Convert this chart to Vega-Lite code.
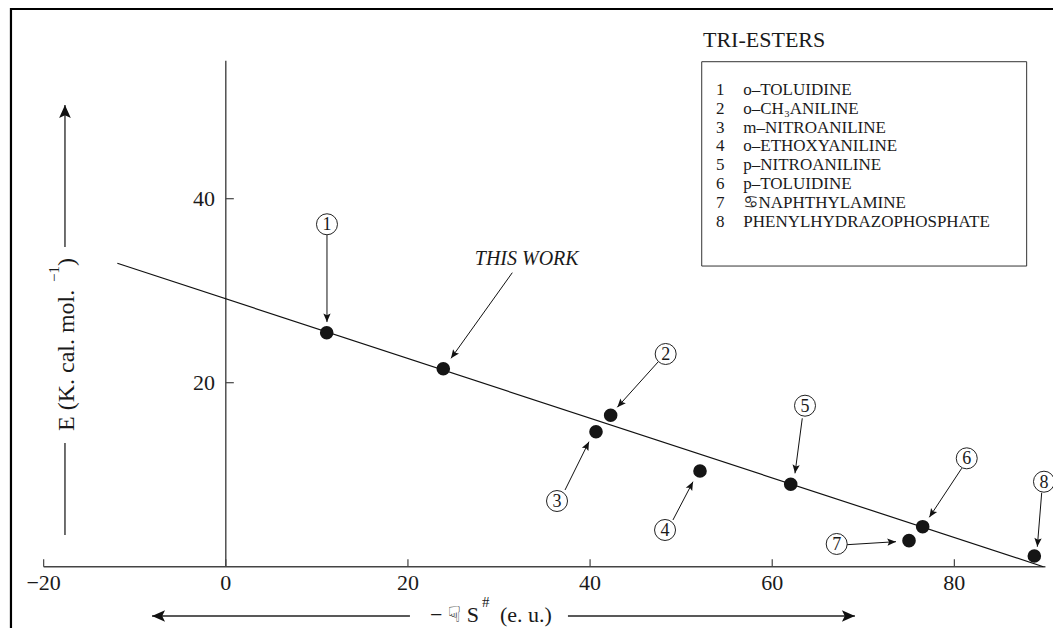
{
  "$schema": "https://vega.github.io/schema/vega-lite/v6.json",
  "width": 1053,
  "height": 628,
  "autosize": {"type": "none"},
  "padding": 0,
  "background": "white",
  "config": {"view": {"stroke": null}, "text": {"font": "Liberation Serif, DejaVu Sans", "color": "#1a1a1a"}},
  "datasets": {
    "frame": [{"x": -23.59, "x2": 91.83, "y": 60.62, "y2": -7.97}],
    "box": [{"x": 52.26, "x2": 87.94, "y": 54.89, "y2": 32.68}],
    "axislines": [
      {"x": -20, "y": 0, "x2": 90, "y2": 0},
      {"x": 0, "y": 0, "x2": 0, "y2": 55}
    ],
    "fit": [{"x": -11.91, "y": 32.98, "x2": 89.77, "y2": 0}],
    "xticks": [
      {"v": -20, "label": "−20"}, {"v": 0, "label": "0"}, {"v": 20, "label": "20"},
      {"v": 40, "label": "40"}, {"v": 60, "label": "60"}, {"v": 80, "label": "80"}
    ],
    "yticks": [{"v": 20, "label": "20"}, {"v": 40, "label": "40"}],
    "points": [
      {"id": "1", "x": 11.08, "y": 25.43},
      {"id": "TW", "x": 23.88, "y": 21.52},
      {"id": "2", "x": 42.26, "y": 16.46},
      {"id": "3", "x": 40.65, "y": 14.67},
      {"id": "4", "x": 52.07, "y": 10.40},
      {"id": "5", "x": 62.03, "y": 8.96},
      {"id": "6", "x": 76.52, "y": 4.35},
      {"id": "7", "x": 75.02, "y": 2.83},
      {"id": "8", "x": 88.78, "y": 1.16}
    ],
    "labels": [
      {"id": "1", "x": 11.11, "y": 37.22},
      {"id": "2", "x": 48.30, "y": 23.12},
      {"id": "3", "x": 36.37, "y": 7.14},
      {"id": "4", "x": 48.23, "y": 3.99},
      {"id": "5", "x": 63.60, "y": 17.50},
      {"id": "6", "x": 81.36, "y": 11.78},
      {"id": "7", "x": 67.08, "y": 2.47},
      {"id": "8", "x": 89.84, "y": 9.24}
    ],
    "arrows": [
      {"id": "1", "x": 11.11, "y": 36.05, "x2": 11.11, "y2": 26.59},
      {"id": "2", "x": 47.49, "y": 22.28, "x2": 42.99, "y2": 17.33},
      {"id": "3", "x": 37.25, "y": 8.34, "x2": 39.88, "y2": 13.59},
      {"id": "4", "x": 49.10, "y": 5.08, "x2": 51.30, "y2": 9.24},
      {"id": "5", "x": 63.30, "y": 16.13, "x2": 62.50, "y2": 10.15},
      {"id": "6", "x": 80.81, "y": 10.70, "x2": 77.25, "y2": 5.37},
      {"id": "7", "x": 68.18, "y": 2.39, "x2": 73.59, "y2": 2.72},
      {"id": "8", "x": 89.59, "y": 8.04, "x2": 89.11, "y2": 2.17},
      {"id": "TW", "x": 31.46, "y": 31.96, "x2": 24.73, "y2": 22.65}
    ],
    "axisarrows": [
      {"id": "xl", "x": 20.22, "y": -5.36, "x2": -8.10, "y2": -5.36},
      {"id": "xr", "x": 37.57, "y": -5.36, "x2": 69.08, "y2": -5.36},
      {"id": "yu", "x": -17.66, "y": 34.75, "x2": -17.66, "y2": 50.18}
    ],
    "plainlines": [{"x": -17.66, "y": 13.45, "x2": -17.66, "y2": 3.45}],
    "legend": [
      {"n": "1", "name": "o–TOLUIDINE", "y": 51.27},
      {"n": "2", "name": "o–CH₃ANILINE", "y": 49.23},
      {"n": "3", "name": "m–NITROANILINE", "y": 47.18},
      {"n": "4", "name": "o–ETHOXYANILINE", "y": 45.14},
      {"n": "5", "name": "p–NITROANILINE", "y": 43.10},
      {"n": "6", "name": "p–TOLUIDINE", "y": 41.05},
      {"n": "7", "name": "♋︎NAPHTHYLAMINE", "y": 39.01},
      {"n": "8", "name": "PHENYLHYDRAZOPHOSPHATE", "y": 36.97}
    ],
    "xtitle": [
      {"t": "− ☟︎ S", "x": 27.80, "y": -6.01}
    ],
    "xtitlesup": [{"t": "#", "x": 28.13, "y": -4.38}],
    "xtitle2": [{"t": "(e. u.)", "x": 30.11, "y": -6.01}],
    "ytitle": [
      {"t": "E (K.  cal. mol.", "x": -16.67, "y": 14.75},
      {"t": ")", "x": -16.67, "y": 32.68}
    ],
    "ytitlesup": [{"t": "−1", "x": -18.3, "y": 30.95}],
    "tw": [{"t": "THIS WORK", "x": 33.04, "y": 33.41}],
    "legtitle": [{"t": "TRI-ESTERS", "x": 52.4, "y": 56.46}]
  },
  "layer": [
    {
      "data": {"name": "frame"},
      "mark": {"type": "rect", "fill": null, "stroke": "#000", "strokeWidth": 2.2},
      "encoding": {
        "x": {"field": "x", "type": "quantitative", "scale": {"domain": [-24.794, 90.831], "nice": false, "zero": false}, "axis": null},
        "x2": {"field": "x2"},
        "y": {"field": "y", "type": "quantitative", "scale": {"domain": [-6.663, 61.598], "nice": false, "zero": false}, "axis": null},
        "y2": {"field": "y2"}
      }
    },
    {
      "data": {"name": "box"},
      "mark": {"type": "rect", "fill": null, "stroke": "#333", "strokeWidth": 1},
      "encoding": {
        "x": {"field": "x", "type": "quantitative", "scale": {"domain": [-24.794, 90.831], "nice": false, "zero": false}, "axis": null},
        "x2": {"field": "x2"},
        "y": {"field": "y", "type": "quantitative", "scale": {"domain": [-6.663, 61.598], "nice": false, "zero": false}, "axis": null},
        "y2": {"field": "y2"}
      }
    },
    {
      "data": {"name": "axislines"},
      "mark": {"type": "rule", "color": "#444", "strokeWidth": 1.4},
      "encoding": {
        "x": {"field": "x", "type": "quantitative", "scale": {"domain": [-24.794, 90.831], "nice": false, "zero": false}, "axis": null},
        "x2": {"field": "x2"},
        "y": {"field": "y", "type": "quantitative", "scale": {"domain": [-6.663, 61.598], "nice": false, "zero": false}, "axis": null},
        "y2": {"field": "y2"}
      }
    },
    {
      "data": {"name": "xticks"},
      "mark": {"type": "rule", "color": "#444", "strokeWidth": 1.2},
      "encoding": {
        "x": {"field": "v", "type": "quantitative", "scale": {"domain": [-24.794, 90.831], "nice": false, "zero": false}, "axis": null},
        "y": {"datum": 0, "type": "quantitative", "scale": {"domain": [-6.663, 61.598], "nice": false, "zero": false}, "axis": null},
        "y2": {"datum": 0.8}
      }
    },
    {
      "data": {"name": "xticks"},
      "mark": {"type": "text", "fontSize": 22, "align": "center", "baseline": "alphabetic"},
      "encoding": {
        "x": {"field": "v", "type": "quantitative", "scale": {"domain": [-24.794, 90.831], "nice": false, "zero": false}, "axis": null},
        "y": {"datum": -2.53, "type": "quantitative", "scale": {"domain": [-6.663, 61.598], "nice": false, "zero": false}, "axis": null},
        "text": {"field": "label"}
      }
    },
    {
      "data": {"name": "yticks"},
      "mark": {"type": "rule", "color": "#444", "strokeWidth": 1.2},
      "encoding": {
        "x": {"datum": 0, "type": "quantitative", "scale": {"domain": [-24.794, 90.831], "nice": false, "zero": false}, "axis": null},
        "x2": {"datum": 0.88},
        "y": {"field": "v", "type": "quantitative", "scale": {"domain": [-6.663, 61.598], "nice": false, "zero": false}, "axis": null}
      }
    },
    {
      "data": {"name": "yticks"},
      "mark": {"type": "text", "fontSize": 22, "align": "right", "baseline": "middle"},
      "encoding": {
        "x": {"datum": -1.19, "type": "quantitative", "scale": {"domain": [-24.794, 90.831], "nice": false, "zero": false}, "axis": null},
        "y": {"field": "v", "type": "quantitative", "scale": {"domain": [-6.663, 61.598], "nice": false, "zero": false}, "axis": null},
        "text": {"field": "label"}
      }
    },
    {
      "data": {"name": "fit"},
      "mark": {"type": "rule", "color": "#111", "strokeWidth": 1.2},
      "encoding": {
        "x": {"field": "x", "type": "quantitative", "scale": {"domain": [-24.794, 90.831], "nice": false, "zero": false}, "axis": null},
        "x2": {"field": "x2"},
        "y": {"field": "y", "type": "quantitative", "scale": {"domain": [-6.663, 61.598], "nice": false, "zero": false}, "axis": null},
        "y2": {"field": "y2"}
      }
    },
    {
      "data": {"name": "arrows"},
      "mark": {"type": "rule", "color": "#111", "strokeWidth": 1},
      "encoding": {
        "x": {"field": "x", "type": "quantitative", "scale": {"domain": [-24.794, 90.831], "nice": false, "zero": false}, "axis": null},
        "x2": {"field": "x2"},
        "y": {"field": "y", "type": "quantitative", "scale": {"domain": [-6.663, 61.598], "nice": false, "zero": false}, "axis": null},
        "y2": {"field": "y2"}
      }
    },
    {
      "data": {"name": "arrows"},
      "transform": [{"calculate": "atan2((datum.x2-datum.x)*9.107,(datum.y2-datum.y)*9.2)*180/PI", "as": "ang"}],
      "mark": {"type": "point", "shape": "M0,0L-0.42,1L0,0.8L0.42,1Z", "filled": true, "color": "#111", "opacity": 1, "size": 300},
      "encoding": {
        "x": {"field": "x2", "type": "quantitative", "scale": {"domain": [-24.794, 90.831], "nice": false, "zero": false}, "axis": null},
        "y": {"field": "y2", "type": "quantitative", "scale": {"domain": [-6.663, 61.598], "nice": false, "zero": false}, "axis": null},
        "angle": {"field": "ang", "type": "quantitative", "scale": null}
      }
    },
    {
      "data": {"name": "axisarrows"},
      "mark": {"type": "rule", "color": "#222", "strokeWidth": 1.3},
      "encoding": {
        "x": {"field": "x", "type": "quantitative", "scale": {"domain": [-24.794, 90.831], "nice": false, "zero": false}, "axis": null},
        "x2": {"field": "x2"},
        "y": {"field": "y", "type": "quantitative", "scale": {"domain": [-6.663, 61.598], "nice": false, "zero": false}, "axis": null},
        "y2": {"field": "y2"}
      }
    },
    {
      "data": {"name": "axisarrows"},
      "transform": [{"calculate": "atan2((datum.x2-datum.x)*9.107,(datum.y2-datum.y)*9.2)*180/PI", "as": "ang"}],
      "mark": {"type": "point", "shape": "M0,0L-0.45,1L0,0.78L0.45,1Z", "filled": true, "color": "#111", "opacity": 1, "size": 676},
      "encoding": {
        "x": {"field": "x2", "type": "quantitative", "scale": {"domain": [-24.794, 90.831], "nice": false, "zero": false}, "axis": null},
        "y": {"field": "y2", "type": "quantitative", "scale": {"domain": [-6.663, 61.598], "nice": false, "zero": false}, "axis": null},
        "angle": {"field": "ang", "type": "quantitative", "scale": null}
      }
    },
    {
      "data": {"name": "plainlines"},
      "mark": {"type": "rule", "color": "#222", "strokeWidth": 1.3},
      "encoding": {
        "x": {"field": "x", "type": "quantitative", "scale": {"domain": [-24.794, 90.831], "nice": false, "zero": false}, "axis": null},
        "x2": {"field": "x2"},
        "y": {"field": "y", "type": "quantitative", "scale": {"domain": [-6.663, 61.598], "nice": false, "zero": false}, "axis": null},
        "y2": {"field": "y2"}
      }
    },
    {
      "data": {"name": "points"},
      "mark": {"type": "point", "shape": "circle", "filled": true, "color": "#151515", "opacity": 1, "size": 185},
      "encoding": {
        "x": {"field": "x", "type": "quantitative", "scale": {"domain": [-24.794, 90.831], "nice": false, "zero": false}, "axis": null},
        "y": {"field": "y", "type": "quantitative", "scale": {"domain": [-6.663, 61.598], "nice": false, "zero": false}, "axis": null}
      }
    },
    {
      "data": {"name": "labels"},
      "mark": {"type": "point", "shape": "circle", "filled": true, "fill": "white", "stroke": "#222", "strokeWidth": 1, "opacity": 1, "size": 441},
      "encoding": {
        "x": {"field": "x", "type": "quantitative", "scale": {"domain": [-24.794, 90.831], "nice": false, "zero": false}, "axis": null},
        "y": {"field": "y", "type": "quantitative", "scale": {"domain": [-6.663, 61.598], "nice": false, "zero": false}, "axis": null}
      }
    },
    {
      "data": {"name": "labels"},
      "mark": {"type": "text", "fontSize": 18, "align": "center", "baseline": "middle", "dy": 1},
      "encoding": {
        "x": {"field": "x", "type": "quantitative", "scale": {"domain": [-24.794, 90.831], "nice": false, "zero": false}, "axis": null},
        "y": {"field": "y", "type": "quantitative", "scale": {"domain": [-6.663, 61.598], "nice": false, "zero": false}, "axis": null},
        "text": {"field": "id"}
      }
    },
    {
      "data": {"name": "tw"},
      "mark": {"type": "text", "fontSize": 20, "fontStyle": "italic", "align": "center", "baseline": "middle"},
      "encoding": {
        "x": {"field": "x", "type": "quantitative", "scale": {"domain": [-24.794, 90.831], "nice": false, "zero": false}, "axis": null},
        "y": {"field": "y", "type": "quantitative", "scale": {"domain": [-6.663, 61.598], "nice": false, "zero": false}, "axis": null},
        "text": {"field": "t"}
      }
    },
    {
      "data": {"name": "legtitle"},
      "mark": {"type": "text", "fontSize": 22, "align": "left", "baseline": "alphabetic"},
      "encoding": {
        "x": {"field": "x", "type": "quantitative", "scale": {"domain": [-24.794, 90.831], "nice": false, "zero": false}, "axis": null},
        "y": {"field": "y", "type": "quantitative", "scale": {"domain": [-6.663, 61.598], "nice": false, "zero": false}, "axis": null},
        "text": {"field": "t"}
      }
    },
    {
      "data": {"name": "legend"},
      "mark": {"type": "text", "fontSize": 17, "align": "left", "baseline": "alphabetic"},
      "encoding": {
        "x": {"datum": 53.83, "type": "quantitative", "scale": {"domain": [-24.794, 90.831], "nice": false, "zero": false}, "axis": null},
        "y": {"field": "y", "type": "quantitative", "scale": {"domain": [-6.663, 61.598], "nice": false, "zero": false}, "axis": null},
        "text": {"field": "n"}
      }
    },
    {
      "data": {"name": "legend"},
      "mark": {"type": "text", "fontSize": 17, "align": "left", "baseline": "alphabetic"},
      "encoding": {
        "x": {"datum": 56.82, "type": "quantitative", "scale": {"domain": [-24.794, 90.831], "nice": false, "zero": false}, "axis": null},
        "y": {"field": "y", "type": "quantitative", "scale": {"domain": [-6.663, 61.598], "nice": false, "zero": false}, "axis": null},
        "text": {"field": "name"}
      }
    },
    {
      "data": {"name": "xtitle"},
      "mark": {"type": "text", "fontSize": 22, "align": "right", "baseline": "alphabetic"},
      "encoding": {
        "x": {"field": "x", "type": "quantitative", "scale": {"domain": [-24.794, 90.831], "nice": false, "zero": false}, "axis": null},
        "y": {"field": "y", "type": "quantitative", "scale": {"domain": [-6.663, 61.598], "nice": false, "zero": false}, "axis": null},
        "text": {"field": "t"}
      }
    },
    {
      "data": {"name": "xtitlesup"},
      "mark": {"type": "text", "fontSize": 15, "align": "left", "baseline": "alphabetic"},
      "encoding": {
        "x": {"field": "x", "type": "quantitative", "scale": {"domain": [-24.794, 90.831], "nice": false, "zero": false}, "axis": null},
        "y": {"field": "y", "type": "quantitative", "scale": {"domain": [-6.663, 61.598], "nice": false, "zero": false}, "axis": null},
        "text": {"field": "t"}
      }
    },
    {
      "data": {"name": "xtitle2"},
      "mark": {"type": "text", "fontSize": 22, "align": "left", "baseline": "alphabetic"},
      "encoding": {
        "x": {"field": "x", "type": "quantitative", "scale": {"domain": [-24.794, 90.831], "nice": false, "zero": false}, "axis": null},
        "y": {"field": "y", "type": "quantitative", "scale": {"domain": [-6.663, 61.598], "nice": false, "zero": false}, "axis": null},
        "text": {"field": "t"}
      }
    },
    {
      "data": {"name": "ytitle"},
      "mark": {"type": "text", "fontSize": 24, "align": "left", "baseline": "alphabetic", "angle": 270},
      "encoding": {
        "x": {"field": "x", "type": "quantitative", "scale": {"domain": [-24.794, 90.831], "nice": false, "zero": false}, "axis": null},
        "y": {"field": "y", "type": "quantitative", "scale": {"domain": [-6.663, 61.598], "nice": false, "zero": false}, "axis": null},
        "text": {"field": "t"}
      }
    },
    {
      "data": {"name": "ytitlesup"},
      "mark": {"type": "text", "fontSize": 15, "align": "left", "baseline": "alphabetic", "angle": 270},
      "encoding": {
        "x": {"field": "x", "type": "quantitative", "scale": {"domain": [-24.794, 90.831], "nice": false, "zero": false}, "axis": null},
        "y": {"field": "y", "type": "quantitative", "scale": {"domain": [-6.663, 61.598], "nice": false, "zero": false}, "axis": null},
        "text": {"field": "t"}
      }
    }
  ]
}
